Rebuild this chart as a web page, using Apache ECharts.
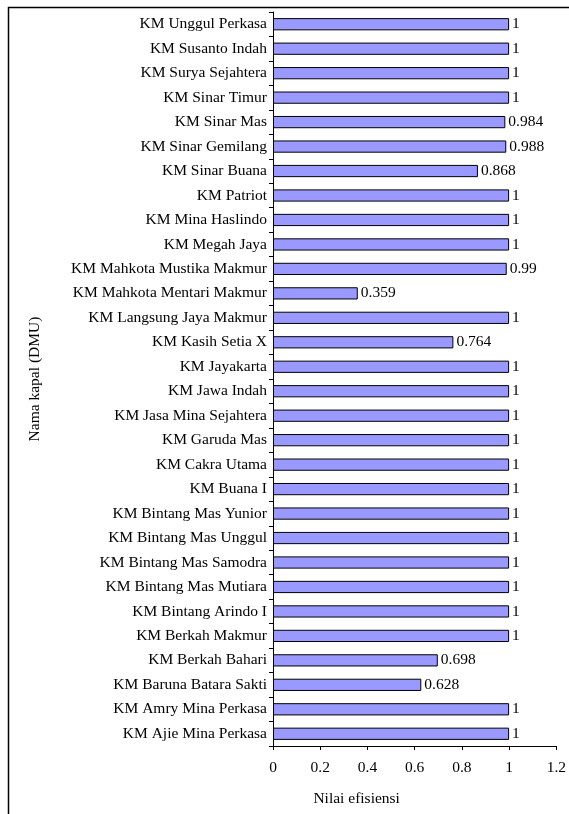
<!DOCTYPE html>
<html>
<head>
<meta charset="utf-8">
<script src="https://cdn.jsdelivr.net/npm/echarts@6/dist/echarts.min.js"></script>
<style>
html,body{margin:0;padding:0;background:#fff;}
#chart{width:569px;height:814px;}
</style>
</head>
<body>
<div id="chart"></div>
<script>
const categories = [
  "KM Unggul Perkasa","KM Susanto Indah","KM Surya Sejahtera","KM Sinar Timur","KM Sinar Mas",
  "KM Sinar Gemilang","KM Sinar Buana","KM Patriot","KM Mina Haslindo","KM Megah Jaya",
  "KM Mahkota Mustika Makmur","KM Mahkota Mentari Makmur","KM Langsung Jaya Makmur","KM Kasih Setia X","KM Jayakarta",
  "KM Jawa Indah","KM Jasa Mina Sejahtera","KM Garuda Mas","KM Cakra Utama","KM Buana I",
  "KM Bintang Mas Yunior","KM Bintang Mas Unggul","KM Bintang Mas Samodra","KM Bintang Mas Mutiara","KM Bintang Arindo I",
  "KM Berkah Makmur","KM Berkah Bahari","KM Baruna Batara Sakti","KM Amry Mina Perkasa","KM Ajie Mina Perkasa"
];
const efficiency = [
  1,1,1,1,0.984,
  0.988,0.868,1,1,1,
  0.99,0.359,1,0.764,1,
  1,1,1,1,1,
  1,1,1,1,1,
  1,0.698,0.628,1,1
];
const xTicks = [0,0.2,0.4,0.6,0.8,1,1.2];

const font = "'Liberation Serif','Times New Roman',serif";
const fs = 15.5;
const chart = echarts.init(document.getElementById('chart'), null, {renderer:'canvas'});
chart.setOption({
  animation:false,
  grid:{left:273,right:12,top:12,bottom:68,containLabel:false},
  xAxis:{
    type:'value',min:0,max:1.2,interval:0.2,
    axisLine:{show:true,lineStyle:{color:'#000',width:1}},
    axisTick:{show:true,length:4,lineStyle:{color:'#000'}},
    splitLine:{show:false},
    axisLabel:{color:'#000',fontFamily:font,fontSize:fs,margin:14,
      formatter:function(v){const t=xTicks.find(x=>Math.abs(x-v)<1e-9);return t===undefined?'':String(t);}},
    name:'Nilai efisiensi',nameLocation:'middle',nameGap:45,
    nameTextStyle:{color:'#000',fontFamily:font,fontSize:fs,padding:[0,116,0,0]}
  },
  yAxis:{
    type:'category',data:categories,inverse:true,
    axisLine:{show:true,lineStyle:{color:'#000',width:1}},
    axisTick:{show:true,length:4,lineStyle:{color:'#000'}},
    axisLabel:{color:'#000',fontFamily:font,fontSize:fs,margin:6},
    name:'Nama kapal (DMU)',nameLocation:'middle',nameGap:230,nameRotate:90,
    nameTextStyle:{color:'#000',fontFamily:font,fontSize:fs}
  },
  series:[{
    type:'bar',data:efficiency,barWidth:'50%',
    itemStyle:{color:'#9999FF',borderColor:'#000',borderWidth:1},
    label:{show:true,position:'right',distance:3,color:'#000',fontFamily:font,fontSize:fs}
  }],
  graphic:[
    {type:'line',shape:{x1:8,y1:7.5,x2:569,y2:7.5},style:{stroke:'#000',lineWidth:1.5}},
    {type:'line',shape:{x1:8.5,y1:7,x2:8.5,y2:814},style:{stroke:'#000',lineWidth:1.5}}
  ]
});
</script>
</body>
</html>
